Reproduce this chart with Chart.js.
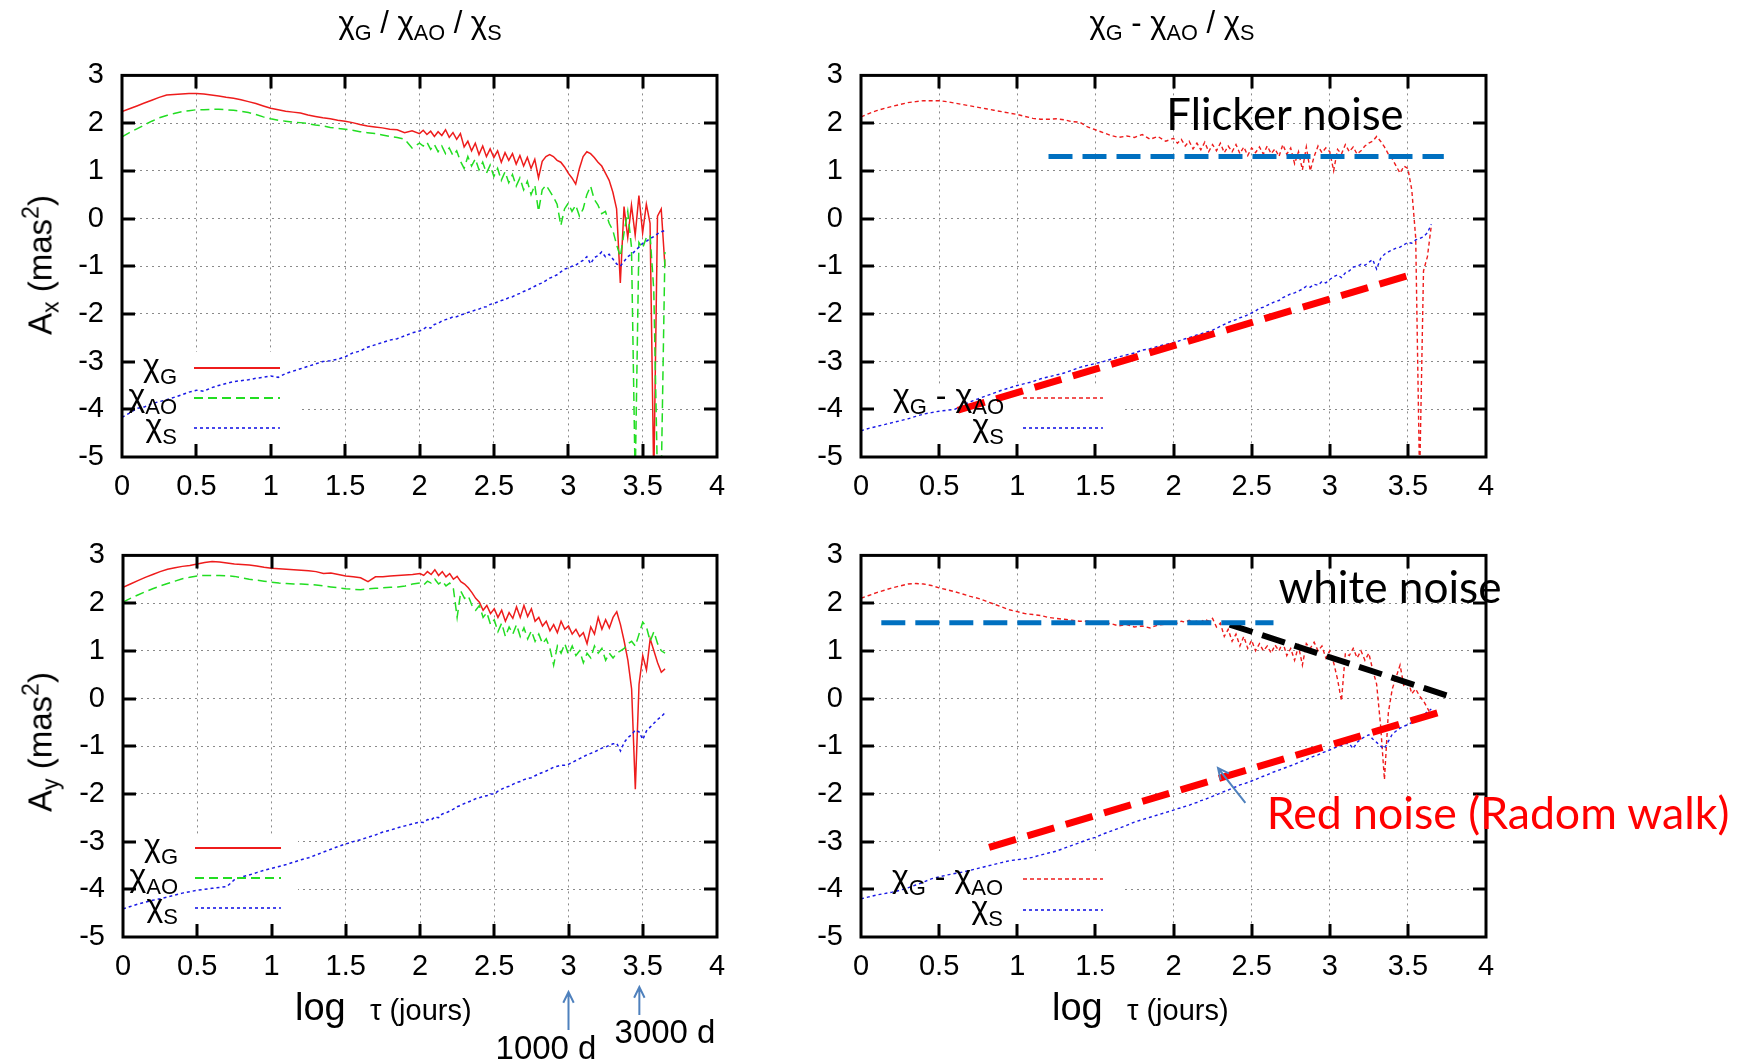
<!DOCTYPE html>
<html>
<head>
<meta charset="utf-8">
<script src="https://cdn.jsdelivr.net/npm/chart.js@4.4.0/dist/chart.umd.min.js"></script>
<style>
  body { margin: 0; background: #fff; }
  #page { position: relative; width: 1746px; height: 1060px; overflow: hidden; font-family: "Liberation Sans", Arial, sans-serif; color: #000; }
  canvas { position: absolute; }
  .t { position: absolute; white-space: nowrap; line-height: 1; }
  .title { font-size: 31px; transform: translateX(-50%); top: 7px; }
  sub { font-size: 0.7em; vertical-align: -0.3em; line-height: 0; }
  sup { font-size: 0.7em; vertical-align: 0.55em; line-height: 0; }
  .ylab { font-size: 33px; transform: translate(-50%, -50%) rotate(-90deg); }
  .xlab { font-size: 38px; }
  .xlab span { font-size: 29px; }
  .day { font-size: 33px; transform: translateX(-50%); }
  .note { font-family: Lato, "Open Sans", sans-serif; font-size: 46px; transform: translate(-50%, -50%); }
</style>
</head>
<body>
<div id="page">
  <canvas id="cTL" width="740" height="470" style="left:0px;top:40px"></canvas>
  <canvas id="cTR" width="750" height="470" style="left:760px;top:40px"></canvas>
  <canvas id="cBL" width="740" height="540" style="left:0px;top:520px"></canvas>
  <canvas id="cBR" width="750" height="540" style="left:760px;top:520px"></canvas>

  <div class="t title" style="left:420px">χ<sub>G</sub> / χ<sub>AO</sub> / χ<sub>S</sub></div>
  <div class="t title" style="left:1172px">χ<sub>G</sub> - χ<sub>AO</sub> / χ<sub>S</sub></div>

  <div class="t ylab" style="left:40px;top:265px">A<sub>x</sub> (mas<sup>2</sup>)</div>
  <div class="t ylab" style="left:40px;top:742px">A<sub>y</sub> (mas<sup>2</sup>)</div>

  <div class="t xlab" style="left:295px;top:988px">log<span>&nbsp;&nbsp;&nbsp;τ (jours)</span></div>
  <div class="t xlab" style="left:1052px;top:988px">log<span>&nbsp;&nbsp;&nbsp;τ (jours)</span></div>

  <div class="t day" style="left:546px;top:1031px">1000 d</div>
  <div class="t day" style="left:665px;top:1015px">3000 d</div>

  <div class="t note fit" data-w="237" style="left:1285px;top:114px">Flicker noise</div>
  <div class="t note fit" data-w="223" style="left:1390px;top:586px">white noise</div>
  <div class="t note fit" data-w="463" style="left:1498px;top:812px;color:#ff0000">Red noise (Radom walk)</div>
</div>

<script>
// log tau (jours) - abscisse commune
var logTau = [0, 0.05, 0.1, 0.15, 0.2, 0.25, 0.3, 0.35, 0.4, 0.45,
  0.5, 0.55, 0.6, 0.65, 0.7, 0.75, 0.8, 0.85, 0.9, 0.95,
  1, 1.05, 1.1, 1.15, 1.2, 1.25, 1.3, 1.35, 1.4, 1.45,
  1.5, 1.55, 1.6, 1.65, 1.7, 1.75, 1.8, 1.85, 1.9, 1.95,
  2,
  2.025, 2.05, 2.075, 2.1, 2.125, 2.15, 2.175, 2.2, 2.225, 2.25,
  2.275, 2.3, 2.325, 2.35, 2.375, 2.4, 2.425, 2.45, 2.475, 2.5,
  2.525, 2.55, 2.575, 2.6, 2.625, 2.65, 2.675, 2.7, 2.725, 2.75,
  2.775, 2.8, 2.825, 2.85, 2.875, 2.9, 2.925, 2.95, 2.975, 3,
  3.025, 3.05, 3.075, 3.1, 3.125, 3.15, 3.175, 3.2, 3.225, 3.25,
  3.275, 3.3, 3.325, 3.35, 3.375, 3.4, 3.425, 3.45, 3.475, 3.5,
  3.525, 3.55, 3.575, 3.6, 3.625, 3.65];

var xTicks = [0, 0.5, 1, 1.5, 2, 2.5, 3, 3.5, 4];
var yTicks = [-5, -4, -3, -2, -1, 0, 1, 2, 3];

// Ax : chi G / chi AO / chi S
var axG = [2.24, 2.30, 2.36, 2.42, 2.48, 2.54, 2.59, 2.60, 2.61, 2.62,
  2.62, 2.61, 2.59, 2.57, 2.54, 2.52, 2.49, 2.45, 2.41, 2.36,
  2.31, 2.28, 2.25, 2.23, 2.21, 2.17, 2.14, 2.11, 2.09, 2.06,
  2.04, 2.01, 1.97, 1.94, 1.92, 1.90, 1.87, 1.86, 1.80, 1.84,
  1.78,
  1.85, 1.76, 1.83, 1.72, 1.82, 1.74, 1.86, 1.70, 1.80, 1.66,
  1.78, 1.50, 1.62, 1.42, 1.58, 1.34, 1.52, 1.30, 1.46, 1.28,
  1.42, 1.18, 1.38, 1.22, 1.36, 1.14, 1.32, 1.10, 1.28, 1.05,
  1.24, 0.85, 1.20, 1.30, 1.34, 1.30, 1.22, 1.18, 1.08, 0.95,
  0.85, 0.72, 1.05, 1.30, 1.40, 1.36, 1.28, 1.18, 1.10, 0.95,
  0.80, 0.55, 0.20, -1.35, 0.25, -0.40, 0.28, -0.35, 0.48, -0.30,
  0.30, -0.10, -5.5, 0.05, 0.20, -1.00];
var axAO = [1.71, 1.80, 1.88, 1.96, 2.04, 2.11, 2.16, 2.20, 2.24, 2.26,
  2.28, 2.28, 2.29, 2.29, 2.28, 2.27, 2.25, 2.22, 2.18, 2.13,
  2.09, 2.06, 2.04, 2.02, 2.01, 1.99, 1.96, 1.94, 1.91, 1.89,
  1.87, 1.85, 1.82, 1.80, 1.78, 1.75, 1.72, 1.70, 1.66, 1.48,
  1.58,
  1.52, 1.60, 1.45, 1.55, 1.40, 1.52, 1.36, 1.48, 1.32, 1.42,
  1.20, 1.05, 1.30, 1.10, 1.25, 1.02, 1.18, 0.95, 1.12, 0.88,
  1.05, 0.80, 0.98, 0.75, 0.92, 0.68, 0.85, 0.60, 0.78, 0.50,
  0.70, 0.15, 0.60, 0.70, 0.58, 0.45, 0.30, -0.15, 0.20, 0.32,
  0.15, 0.28, 0.05, 0.20, 0.50, 0.68, 0.40, 0.28, 0.10, 0.15,
  -0.10, -0.25, -0.55, -0.80, -0.30, 0.15, -0.60, -5.5, -0.50, -0.62,
  -0.40, -0.35, -1.50, -5.5, -5.5, -0.70];
var axS = [-4.17, -4.08, -3.98, -3.95, -3.88, -3.84, -3.80, -3.75, -3.70, -3.64,
  -3.60, -3.62, -3.55, -3.50, -3.46, -3.42, -3.40, -3.38, -3.35, -3.33,
  -3.30, -3.33, -3.25, -3.20, -3.15, -3.10, -3.05, -3.00, -2.98, -2.95,
  -2.90, -2.82, -2.78, -2.70, -2.65, -2.60, -2.55, -2.52, -2.46, -2.40,
  -2.36,
  -2.32, -2.27, -2.30, -2.22, -2.20, -2.15, -2.12, -2.10, -2.06, -2.06,
  -2.02, -2.00, -1.97, -1.95, -1.92, -1.90, -1.86, -1.85, -1.80, -1.78,
  -1.75, -1.72, -1.70, -1.66, -1.64, -1.60, -1.57, -1.53, -1.50, -1.46,
  -1.42, -1.38, -1.35, -1.30, -1.25, -1.22, -1.18, -1.12, -1.06, -1.04,
  -1.00, -0.98, -0.92, -0.88, -0.80, -0.95, -0.82, -0.78, -0.70, -0.80,
  -0.75, -0.85, -0.95, -1.00, -0.90, -0.80, -0.75, -0.68, -0.60, -0.52,
  -0.48, -0.42, -0.38, -0.32, -0.28, -0.25];

// Ax : chi G - chi AO / chi S
var axDiff = [2.13, 2.20, 2.26, 2.31, 2.35, 2.39, 2.43, 2.45, 2.47, 2.47,
  2.47, 2.45, 2.42, 2.39, 2.36, 2.33, 2.30, 2.27, 2.24, 2.21,
  2.18, 2.14, 2.10, 2.08, 2.08, 2.09, 2.07, 2.03, 2.02, 1.92,
  1.86, 1.80, 1.74, 1.70, 1.73, 1.70, 1.76, 1.66, 1.72, 1.62,
  1.68,
  1.58, 1.66, 1.52, 1.62, 1.46, 1.58, 1.44, 1.60, 1.40, 1.55,
  1.42, 1.58, 1.38, 1.52, 1.40, 1.55, 1.36, 1.50, 1.32, 1.48,
  1.38, 1.50, 1.35, 1.52, 1.36, 1.46, 1.30, 1.55, 1.35, 1.48,
  1.15, 1.40, 1.02, 1.50, 1.00, 1.30, 1.52, 1.38, 1.48, 1.40,
  1.00, 1.45, 1.35, 1.55, 1.40, 1.50, 1.35, 1.42, 1.52, 1.58,
  1.62, 1.72, 1.62, 1.50, 1.35, 1.25, 1.10, 0.95, 1.10, 1.05,
  0.60, -0.40, -5.5, -1.10, -0.80, -0.15];
var axS2 = [-4.45, -4.40, -4.36, -4.32, -4.28, -4.24, -4.20, -4.15, -4.10, -4.07,
  -4.04, -4.02, -4.00, -3.92, -3.84, -3.78, -3.72, -3.66, -3.60, -3.55,
  -3.50, -3.46, -3.42, -3.36, -3.32, -3.28, -3.24, -3.18, -3.12, -3.08,
  -3.04, -3.00, -2.95, -2.90, -2.86, -2.82, -2.76, -2.73, -2.68, -2.64,
  -2.60,
  -2.58, -2.55, -2.52, -2.50, -2.47, -2.44, -2.42, -2.39, -2.37, -2.34,
  -2.30, -2.26, -2.22, -2.18, -2.15, -2.12, -2.08, -2.06, -2.02, -1.98,
  -1.94, -1.88, -1.86, -1.82, -1.78, -1.74, -1.72, -1.66, -1.62, -1.58,
  -1.56, -1.52, -1.48, -1.42, -1.44, -1.38, -1.40, -1.32, -1.35, -1.28,
  -1.22, -1.18, -1.24, -1.14, -1.10, -1.02, -1.00, -0.96, -0.98, -0.92,
  -0.86, -1.06, -0.84, -0.75, -0.70, -0.66, -0.62, -0.60, -0.55, -0.50,
  -0.52, -0.45, -0.42, -0.38, -0.30, -0.12];

// Ay : chi G / chi AO / chi S
var ayG = [2.33, 2.40, 2.47, 2.54, 2.60, 2.66, 2.71, 2.74, 2.77, 2.79,
  2.82, 2.85, 2.87, 2.86, 2.84, 2.82, 2.81, 2.80, 2.78, 2.75,
  2.73, 2.72, 2.71, 2.70, 2.69, 2.68, 2.66, 2.62, 2.63, 2.60,
  2.57, 2.55, 2.53, 2.45, 2.55, 2.55, 2.57, 2.58, 2.59, 2.60,
  2.62,
  2.58, 2.66, 2.60, 2.70, 2.58, 2.66, 2.55, 2.62, 2.50, 2.56,
  2.45, 2.40, 2.32, 2.22, 2.10, 2.02, 1.85, 1.95, 1.78, 1.88,
  1.70, 1.85, 1.62, 1.80, 1.68, 1.92, 1.70, 1.95, 1.72, 1.88,
  1.62, 1.70, 1.52, 1.62, 1.42, 1.55, 1.38, 1.62, 1.45, 1.52,
  1.35, 1.45, 1.30, 1.38, 1.15, 1.50, 1.35, 1.70, 1.45, 1.65,
  1.48, 1.70, 1.82, 1.55, 1.20, 0.80, 0.20, -1.90, 0.30, 0.90,
  0.60, 1.25, 1.00, 0.75, 0.55, 0.62];
var ayAO = [2.02, 2.10, 2.17, 2.24, 2.30, 2.36, 2.41, 2.46, 2.51, 2.54,
  2.57, 2.58, 2.58, 2.58, 2.57, 2.56, 2.53, 2.50, 2.48, 2.46,
  2.44, 2.42, 2.41, 2.40, 2.40, 2.39, 2.38, 2.36, 2.34, 2.32,
  2.30, 2.29, 2.28, 2.30, 2.31, 2.32, 2.33, 2.34, 2.36, 2.40,
  2.42,
  2.38, 2.46, 2.42, 2.50, 2.40, 2.46, 2.36, 2.42, 2.30, 1.70,
  2.25, 2.10, 2.15, 1.95, 1.85, 1.95, 1.70, 1.80, 1.55, 1.65,
  1.40, 1.58, 1.30, 1.50, 1.35, 1.55, 1.30, 1.48, 1.25, 1.42,
  1.20, 1.35, 1.15, 1.25, 1.05, 0.70, 1.10, 0.95, 1.15, 0.92,
  1.10, 0.90, 1.00, 0.75, 0.95, 0.85, 1.10, 0.95, 1.05, 0.80,
  0.95, 0.85, 0.95, 1.00, 1.05, 1.15, 1.20, 1.10, 1.35, 1.60,
  1.50, 1.20, 1.40, 1.15, 1.00, 0.95];
var ayS = [-4.41, -4.36, -4.31, -4.27, -4.23, -4.20, -4.16, -4.12, -4.08, -4.05,
  -4.02, -4.00, -3.98, -3.96, -3.94, -3.80, -3.74, -3.70, -3.65, -3.60,
  -3.56, -3.52, -3.48, -3.43, -3.38, -3.34, -3.28, -3.22, -3.16, -3.10,
  -3.05, -3.00, -2.96, -2.91, -2.86, -2.80, -2.76, -2.71, -2.67, -2.63,
  -2.59,
  -2.60, -2.54, -2.55, -2.48, -2.50, -2.42, -2.40, -2.36, -2.32, -2.27,
  -2.24, -2.20, -2.17, -2.14, -2.10, -2.08, -2.05, -2.04, -2.00, -2.00,
  -1.94, -1.90, -1.86, -1.84, -1.80, -1.76, -1.74, -1.70, -1.68, -1.66,
  -1.62, -1.58, -1.55, -1.52, -1.48, -1.44, -1.42, -1.40, -1.40, -1.38,
  -1.34, -1.30, -1.26, -1.22, -1.18, -1.15, -1.12, -1.08, -1.04, -1.02,
  -0.98, -0.95, -0.94, -1.10, -0.92, -0.82, -0.76, -0.66, -0.70, -0.86,
  -0.68, -0.60, -0.52, -0.44, -0.38, -0.30];

// Ay : chi G - chi AO / chi S
var ayDiff = [2.10, 2.16, 2.22, 2.27, 2.32, 2.36, 2.40, 2.41, 2.40, 2.37,
  2.32, 2.28, 2.24, 2.19, 2.14, 2.10, 2.04, 1.98, 1.92, 1.86,
  1.82, 1.78, 1.76, 1.74, 1.70, 1.68, 1.66, 1.64, 1.62, 1.62,
  1.60, 1.58, 1.57, 1.52, 1.55, 1.50, 1.52, 1.48, 1.54, 1.56,
  1.60,
  1.58, 1.62, 1.60, 1.64, 1.60, 1.62, 1.60, 1.66, 1.62, 1.68,
  1.50, 1.58, 1.30, 1.45, 1.20, 1.35, 1.10, 1.30, 1.05, 1.22,
  1.00, 1.15, 1.00, 1.10, 0.95, 1.12, 1.00, 1.18, 0.90, 1.05,
  0.80, 1.10, 0.70, 1.15, 1.05, 1.18, 1.00, 1.10, 0.85, 1.00,
  0.75, 0.40, -0.05, 0.95, 0.90, 1.05, 0.85, 1.00, 0.80, 0.95,
  0.60, 0.30, -0.55, -1.70, -0.30, 0.20, 0.45, 0.70, 0.25, 0.40,
  0.10, 0.20, 0.05, -0.05, -0.20, -0.35];
var ayS2 = [-4.20, -4.16, -4.12, -4.09, -4.06, -4.02, -3.97, -3.91, -3.85, -3.78,
  -3.74, -3.70, -3.67, -3.64, -3.60, -3.56, -3.52, -3.48, -3.44, -3.40,
  -3.38, -3.36, -3.33, -3.28, -3.24, -3.20, -3.14, -3.08, -3.02, -2.96,
  -2.91, -2.84, -2.78, -2.72, -2.66, -2.59, -2.54, -2.49, -2.44, -2.39,
  -2.34,
  -2.31, -2.29, -2.26, -2.24, -2.20, -2.18, -2.14, -2.12, -2.08, -2.05,
  -2.02, -1.98, -1.95, -1.92, -1.88, -1.85, -1.81, -1.79, -1.76, -1.73,
  -1.70, -1.66, -1.63, -1.60, -1.56, -1.53, -1.50, -1.47, -1.44, -1.41,
  -1.38, -1.34, -1.31, -1.28, -1.24, -1.21, -1.18, -1.14, -1.11, -1.08,
  -1.04, -1.01, -0.98, -0.94, -0.95, -1.05, -0.92, -0.85, -0.80, -0.76,
  -0.85, -0.92, -1.00, -1.05, -0.90, -0.75, -0.68, -0.62, -0.58, -0.55,
  -0.50, -0.44, -0.40, -0.34, -0.28, -0.22];

// droites de pente ajoutees a la main
var flickerX = [1.2, 3.73], flickerY = [1.3, 1.3];
var redFitX = [0.62, 3.52], redFitY = [-4.02, -1.18];
var whiteFlatX = [0.13, 2.64], whiteFlatY = [1.59, 1.59];
var whiteSlopeX = [2.36, 3.78], whiteSlopeY = [1.55, 0.03];
var redWalkX = [0.82, 3.72], redWalkY = [-3.12, -0.27];
var pointerFrom = [2.46, -2.19], pointerTo = [2.285, -1.46];
var dayMarks = [1000, 3000];

var RED = '#ee1c1c', GREEN = '#22dd22', BLUE = '#1a1ae6';
var FONT = '"Liberation Sans", Arial, sans-serif';
var tickFont = { family: FONT, size: 29 };

function series(ys, color, dash, width, order) {
  return {
    data: logTau.map(function (x, i) { return { x: x, y: ys[i] }; }),
    borderColor: color, borderDash: dash, borderWidth: width, order: order,
    fill: false, pointRadius: 0
  };
}

function fitLine(xs, ys, color, dash, width) {
  return {
    data: xs.map(function (x, i) { return { x: x, y: ys[i] }; }),
    borderColor: color, borderDash: dash, borderWidth: width, order: 0,
    borderCapStyle: 'butt', fill: false, pointRadius: 0
  };
}

//scrive chi con i pedici, allineato a destra
function drawLabel(ctx, segs, xr, yBase) {
  var total = 0;
  segs.forEach(function (s) {
    ctx.font = (s[1] ? '22px ' : '32px ') + FONT;
    total += ctx.measureText(s[0]).width;
  });
  var x = xr - total;
  segs.forEach(function (s) {
    ctx.font = (s[1] ? '22px ' : '32px ') + FONT;
    ctx.fillText(s[0], x, yBase + (s[1] ? 8 : 0));
    x += ctx.measureText(s[0]).width;
  });
}

function arrow(ctx, x0, y0, x1, y1) {
  var a = Math.atan2(y1 - y0, x1 - x0), h = 12;
  ctx.beginPath();
  ctx.moveTo(x0, y0); ctx.lineTo(x1, y1);
  ctx.moveTo(x1 - h * Math.cos(a - 0.45), y1 - h * Math.sin(a - 0.45));
  ctx.lineTo(x1, y1);
  ctx.lineTo(x1 - h * Math.cos(a + 0.45), y1 - h * Math.sin(a + 0.45));
  ctx.stroke();
}

function framePlugin(cfg) {
  return {
    id: 'gnuFrame',
    beforeDatasetsDraw: function (chart) {
      var a = chart.chartArea, ctx = chart.ctx;
      ctx.save();
      ctx.fillStyle = '#fff';
      ctx.fillRect(a.left, a.bottom - cfg.box[1], cfg.box[0], cfg.box[1]);
      ctx.restore();
    },
    afterDatasetsDraw: function (chart) {
      var a = chart.chartArea, ctx = chart.ctx;
      var sx = chart.scales.x, sy = chart.scales.y;
      ctx.save();
      // legenda
      cfg.legend.forEach(function (it) {
        var y = a.bottom - it.row;
        ctx.strokeStyle = it.color; ctx.lineWidth = it.width;
        ctx.setLineDash(it.dash);
        ctx.beginPath();
        ctx.moveTo(a.left + cfg.lx0, y); ctx.lineTo(a.left + cfg.lx1, y);
        ctx.stroke();
        ctx.fillStyle = '#000';
        drawLabel(ctx, it.label, a.left + cfg.tx, y + 8);
      });
      // cornice e tacche
      ctx.setLineDash([]);
      ctx.strokeStyle = '#000'; ctx.lineWidth = 3;
      ctx.beginPath();
      xTicks.slice(1, -1).forEach(function (v) {
        var p = Math.round(sx.getPixelForValue(v));
        ctx.moveTo(p, a.bottom); ctx.lineTo(p, a.bottom - 13);
        ctx.moveTo(p, a.top); ctx.lineTo(p, a.top + 13);
      });
      yTicks.slice(1, -1).forEach(function (v) {
        var p = Math.round(sy.getPixelForValue(v));
        ctx.moveTo(a.left, p); ctx.lineTo(a.left + 13, p);
        ctx.moveTo(a.right, p); ctx.lineTo(a.right - 13, p);
      });
      ctx.stroke();
      ctx.strokeRect(a.left, a.top, a.right - a.left, a.bottom - a.top);
      ctx.restore();
    },
    afterDraw: function (chart) {
      if (cfg.extra) {
        chart.ctx.save();
        cfg.extra(chart);
        chart.ctx.restore();
      }
    }
  };
}

function makePanel(id, yWidth, padTop, padRight, xHeight, datasets, cfg) {
  return new Chart(document.getElementById(id), {
    type: 'line',
    data: { datasets: datasets },
    options: {
      responsive: false,
      animation: false,
      devicePixelRatio: 1,
      layout: { padding: { left: 0, top: padTop, right: padRight, bottom: 0 } },
      plugins: { legend: { display: false }, tooltip: { enabled: false } },
      elements: { point: { radius: 0 }, line: { tension: 0 } },
      scales: {
        x: {
          type: 'linear', min: 0, max: 4,
          afterBuildTicks: function (s) { s.ticks = xTicks.map(function (v) { return { value: v }; }); },
          afterFit: function (s) { s.height = xHeight; },
          ticks: { font: tickFont, color: '#000', padding: 13, maxRotation: 0, autoSkip: false,
                   callback: function (v) { return String(v); } },
          grid: { color: '#8a8a8a', lineWidth: 1, drawTicks: false },
          border: { display: false, dash: [2, 4] }
        },
        y: {
          type: 'linear', min: -5, max: 3,
          afterBuildTicks: function (s) { s.ticks = yTicks.map(function (v) { return { value: v }; }); },
          afterFit: function (s) { s.width = yWidth; },
          ticks: { font: tickFont, color: '#000', padding: 18, autoSkip: false,
                   callback: function (v) { return String(v); } },
          grid: { color: '#8a8a8a', lineWidth: 1, drawTicks: false },
          border: { display: false, dash: [2, 4] }
        }
      }
    },
    plugins: [framePlugin(cfg)]
  });
}

var lgG = { label: [['χ', 0], ['G', 1]], color: RED, dash: [], width: 2 };
var lgAO = { label: [['χ', 0], ['AO', 1]], color: GREEN, dash: [9, 5], width: 2 };
var lgS = { label: [['χ', 0], ['S', 1]], color: BLUE, dash: [3, 3], width: 1.6 };
var lgDiff = { label: [['χ', 0], ['G', 1], [' - ', 0], ['χ', 0], ['AO', 1]], color: RED, dash: [4, 3], width: 1.6 };

function row(o, r) { return Object.assign({}, o, { row: r }); }

// pannello Ax sinistro
makePanel('cTL', 122, 29, 23, 53, [
  series(axG, RED, [], 1.5, 3),
  series(axAO, GREEN, [9, 5], 1.5, 2),
  series(axS, BLUE, [3, 3], 1.5, 1)
], { box: [176, 105], lx0: 72, lx1: 158, tx: 55,
     legend: [row(lgG, 89), row(lgAO, 59), row(lgS, 29)] });

// pannello Ax destro
makePanel('cTR', 101, 29, 24, 53, [
  series(axDiff, RED, [4, 3], 1.4, 3),
  series(axS2, BLUE, [3, 3], 1.4, 1),
  fitLine(flickerX, flickerY, '#0070c0', [24, 10], 5),
  fitLine(redFitX, redFitY, '#ff0000', [28, 12], 7)
], { box: [264, 73], lx0: 162, lx1: 242, tx: 143,
     legend: [row(lgDiff, 59), row(lgS, 29)] });

// pannello Ay sinistro
makePanel('cBL', 123, 33, 23, 123, [
  series(ayG, RED, [], 1.5, 3),
  series(ayAO, GREEN, [9, 5], 1.5, 2),
  series(ayS, BLUE, [3, 3], 1.5, 1)
], { box: [175, 102], lx0: 72, lx1: 158, tx: 55,
     legend: [row(lgG, 89), row(lgAO, 59), row(lgS, 29)],
     extra: function (chart) {
       var ctx = chart.ctx, a = chart.chartArea, sx = chart.scales.x;
       var spans = [[55, 93], [50, 78]];
       ctx.strokeStyle = '#4f81bd'; ctx.lineWidth = 2;
       dayMarks.forEach(function (d, i) {
         var x = sx.getPixelForValue(Math.log10(d));
         arrow(ctx, x, a.bottom + spans[i][1], x, a.bottom + spans[i][0]);
       });
     } });

// pannello Ay destro
makePanel('cBR', 101, 33, 24, 123, [
  series(ayDiff, RED, [4, 3], 1.4, 3),
  series(ayS2, BLUE, [3, 3], 1.4, 1),
  fitLine(whiteFlatX, whiteFlatY, '#0070c0', [24, 10], 5),
  fitLine(whiteSlopeX, whiteSlopeY, '#000000', [24, 10], 6),
  fitLine(redWalkX, redWalkY, '#ff0000', [28, 12], 7)
], { box: [264, 86], lx0: 162, lx1: 242, tx: 142,
     legend: [row(lgDiff, 58), row(lgS, 27)],
     extra: function (chart) {
       var ctx = chart.ctx, sx = chart.scales.x, sy = chart.scales.y;
       ctx.strokeStyle = '#4f81bd'; ctx.lineWidth = 2;
       arrow(ctx, sx.getPixelForValue(pointerFrom[0]), sy.getPixelForValue(pointerFrom[1]),
             sx.getPixelForValue(pointerTo[0]), sy.getPixelForValue(pointerTo[1]));
     } });

// adatta la larghezza delle scritte
document.querySelectorAll('.fit').forEach(function (el) {
  var target = +el.getAttribute('data-w');
  var size = parseFloat(getComputedStyle(el).fontSize);
  el.style.fontSize = (size * target / el.offsetWidth).toFixed(1) + 'px';
});
</script>
</body>
</html>
